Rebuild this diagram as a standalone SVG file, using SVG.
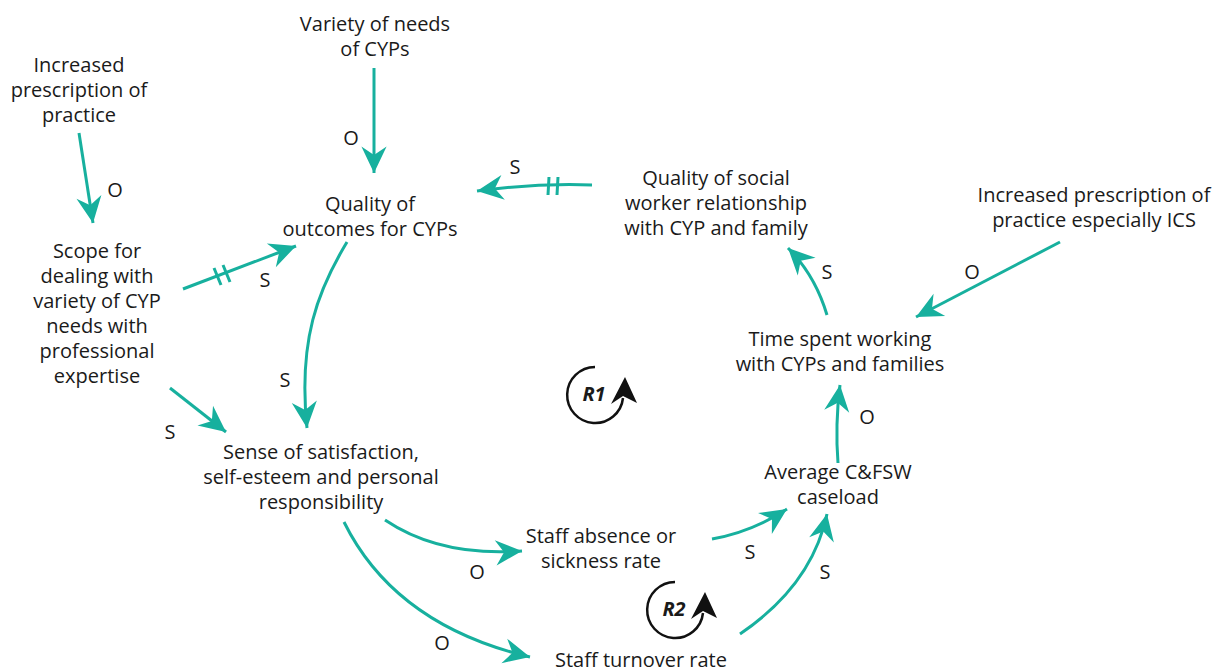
<svg xmlns="http://www.w3.org/2000/svg" width="1222" height="671" viewBox="0 0 1222 671">
<defs>
<style>
.t{font-family:"Open Sans","Liberation Sans",sans-serif;font-size:20px;fill:#1a1a1a;text-anchor:middle}
.l{font-family:"Open Sans","Liberation Sans",sans-serif;font-size:20px;fill:#1a1a1a;text-anchor:middle}
.c{fill:none;stroke:#17b09e;stroke-width:3;marker-end:url(#ah)}
.d{fill:none;stroke:#17b09e;stroke-width:3}
.loop{fill:none;stroke:#111;stroke-width:2.5}
.lt{font-family:"Open Sans","Liberation Sans",sans-serif;font-size:20px;font-weight:bold;font-style:italic;fill:#1a1a1a;text-anchor:middle}
</style>
<marker id="ah" markerUnits="userSpaceOnUse" markerWidth="30" markerHeight="30" viewBox="-23 -12 25 24" refX="0" refY="0" orient="auto">
<path d="M0,0 L-22,-10.5 L-15,0 L-22,10.5 Z" fill="#17b09e"/>
</marker>
</defs>
<rect width="1222" height="671" fill="#fff"/>

<g id="connectors">
<path class="c" d="M79,133 L93,223"/>
<path class="c" d="M374,68 L374,173"/>
<path class="c" d="M592,185 Q535,183 477,191"/>
<path class="d" d="M549,177 L548,195 M558,177 L557,195"/>
<path class="c" d="M183,289 L296,246"/>
<path class="d" d="M214,268 L221,285 M223,265 L230,282"/>
<path class="c" d="M170,388 L226,432"/>
<path class="c" d="M347,242 C318,290 298,340 307,428"/>
<path class="c" d="M385,520 Q440,557 522,551"/>
<path class="c" d="M344,522 Q395,625 530,657"/>
<path class="c" d="M712,539 Q752,532 787,509"/>
<path class="c" d="M740,634 Q812,585 827,514"/>
<path class="c" d="M838,463 Q835,425 840,385"/>
<path class="c" d="M827,315 Q815,275 788,248"/>
<path class="c" d="M1060,242 L916,317"/>
</g>

<g id="labels">
<text class="l" x="115" y="197">O</text>
<text class="l" x="351" y="145">O</text>
<text class="l" x="515" y="174">S</text>
<text class="l" x="265" y="287">S</text>
<text class="l" x="170" y="439">S</text>
<text class="l" x="285" y="387">S</text>
<text class="l" x="477" y="579">O</text>
<text class="l" x="442" y="650">O</text>
<text class="l" x="750" y="559">S</text>
<text class="l" x="825" y="579">S</text>
<text class="l" x="867" y="424">O</text>
<text class="l" x="827" y="279">S</text>
<text class="l" x="972" y="279">O</text>
</g>

<g id="loop-R1">
<path class="loop" d="M595,367 A28,28 0 1 0 623,398"/>
<path d="M625,377 L611,404 L623,396 L637,403 Z" fill="#111"/>
<text class="lt" x="594" y="401">R1</text>
</g>
<g id="loop-R2">
<path class="loop" d="M675,582 A28,28 0 1 0 703,613"/>
<path d="M705,592 L691,619 L703,611 L717,618 Z" fill="#111"/>
<text class="lt" x="674" y="616">R2</text>
</g>

<g id="n-increased">
<text class="t" x="79" y="72">Increased</text>
<text class="t" x="79" y="97">prescription of</text>
<text class="t" x="79" y="122">practice</text>
</g>
<g id="n-variety">
<text class="t" x="375" y="31">Variety of needs</text>
<text class="t" x="375" y="56">of CYPs</text>
</g>
<g id="n-quality-outcomes">
<text class="t" x="370" y="211">Quality of</text>
<text class="t" x="370" y="236">outcomes for CYPs</text>
</g>
<g id="n-quality-social">
<text class="t" x="716" y="185">Quality of social</text>
<text class="t" x="716" y="210">worker relationship</text>
<text class="t" x="716" y="235">with CYP and family</text>
</g>
<g id="n-ics">
<text class="t" x="1094" y="202">Increased prescription of</text>
<text class="t" x="1094" y="227">practice especially ICS</text>
</g>
<g id="n-scope">
<text class="t" x="97" y="258">Scope for</text>
<text class="t" x="97" y="283">dealing with</text>
<text class="t" x="97" y="308">variety of CYP</text>
<text class="t" x="97" y="333">needs with</text>
<text class="t" x="97" y="358">professional</text>
<text class="t" x="97" y="383">expertise</text>
</g>
<g id="n-time">
<text class="t" x="840" y="346">Time spent working</text>
<text class="t" x="840" y="371">with CYPs and families</text>
</g>
<g id="n-sense">
<text class="t" x="321" y="459">Sense of satisfaction,</text>
<text class="t" x="321" y="484">self-esteem and personal</text>
<text class="t" x="321" y="509">responsibility</text>
</g>
<g id="n-average">
<text class="t" x="838" y="479">Average C&amp;FSW</text>
<text class="t" x="838" y="504">caseload</text>
</g>
<g id="n-absence">
<text class="t" x="601" y="543">Staff absence or</text>
<text class="t" x="601" y="568">sickness rate</text>
</g>
<g id="n-turnover">
<text class="t" x="641" y="667">Staff turnover rate</text>
</g>
</svg>
